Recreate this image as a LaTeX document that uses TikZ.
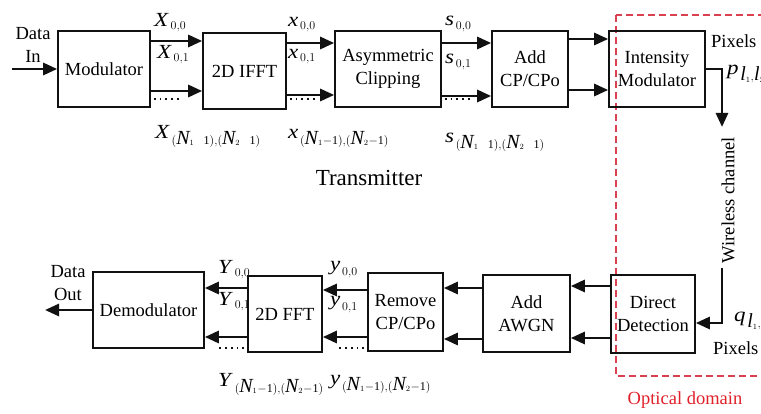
\documentclass[tikz,border=0pt]{standalone}
\usepackage{fontspec}
\setmainfont{Liberation Serif}
\usepackage{tikz}
\usetikzlibrary{arrows.meta,positioning}
\definecolor{ink}    {HTML}{111111}
\definecolor{optred} {HTML}{D94050}
\definecolor{optlab} {HTML}{E0202A}
\DeclareMathSizes{20}{20}{12}{8.5}
\newcommand{\vlet}[1]{\scalebox{1.15}[1]{\textit{#1}\kern1.5pt}}
\newcommand{\lastidx}[1]{(\textit{N}_{1}#1\mathrm{1}),(\textit{N}_{2}#1\mathrm{1})}

\begin{document}
\begin{tikzpicture}[x=1pt,y=-1pt,font=\fontsize{18.5}{23}\selectfont,
    box/.style={draw=ink,line width=1.6pt,inner sep=0pt,align=center},
    sig/.style={ink,line width=2.8pt,-{Triangle[length=14pt,width=12pt]}},
    dots/.style={ink,line width=1.8pt,dash pattern=on 1.8pt off 4pt},
    lab/.style={anchor=west,inner sep=0pt,font=\fontsize{20}{24}\selectfont}]
        \useasboundingbox (0,0) rectangle (761,414);

        % optical domain frame
        \draw[optred,line width=1.2pt,dash pattern=on 7pt off 4pt] (616,15) rectangle (775,376);
        \node[text=optlab] (optical) at (685,400) {Optical domain};

        \node[box,minimum width=92pt,minimum height=76pt]  (mod)   at (104,69)    {Modulator};
        \node[box,minimum width=83pt,minimum height=76pt]  (ifft)  at (244.5,71)  {2D IFFT};
        \node[box,minimum width=106pt,minimum height=76pt] (clip)  at (388,69)    {Asymmetric\\Clipping};
        \node[box,minimum width=76pt,minimum height=76pt]  (addcp) at (530,69)    {Add\\CP/CPo};
        \node[box,minimum width=96pt,minimum height=76pt]  (im)    at (657,69)    {Intensity\\Modulator};

        \node[box,minimum width=84pt,minimum height=78pt]  (dd)    at (653,314)   {Direct\\Detection};
        \node[box,minimum width=87pt,minimum height=77pt]  (awgn)  at (526.5,313.5) {Add\\AWGN};
        \node[box,minimum width=75pt,minimum height=78pt]  (rmcp)  at (405.5,312) {Remove\\CP/CPo};
        \node[box,minimum width=74pt,minimum height=76pt]  (fft)   at (285,314)   {2D FFT};
        \node[box,minimum width=111pt,minimum height=76pt] (demod) at (148.5,310) {Demodulator};

        \node[align=center,inner sep=0pt] (datain)  at (33,45)  {Data\\In};
        \node[align=center,inner sep=0pt] (dataout) at (68,283) {Data\\Out};
        \coordinate (din)  at (12,69);
        \coordinate (dout) at (45,310);
        \draw[sig] (din) -- (mod.west);
        \draw[sig] (demod.west) -- (dout);

        \foreach \a/\b/\u/\d in {mod/ifft/28/-22,ifft/clip/28/-24,clip/addcp/26/-27,addcp/im/30/-21} {
          \draw[sig] ([yshift=\u pt]\a.east) -- ([yshift=\u pt]\a.east -| \b.west);
          \draw[sig] ([yshift=\d pt]\a.east) -- ([yshift=\d pt]\a.east -| \b.west);
        }
        \foreach \a/\b/\u/\d in {dd/awgn/28/-24,awgn/rmcp/25.5/-25.5,rmcp/fft/22/-25,fft/demod/26/-23} {
          \draw[sig] ([yshift=\u pt]\a.west) -- ([yshift=\u pt]\a.west -| \b.east);
          \draw[sig] ([yshift=\d pt]\a.west) -- ([yshift=\d pt]\a.west -| \b.east);
        }
        \foreach \a/\s in {mod/-30,ifft/-28,clip/-30} {
          \draw[dots] ([shift={(3pt,\s pt)}]\a.east) -- ++(27,0);
        }
        \foreach \a/\s in {fft/-34,rmcp/-36} {
          \draw[dots] ([shift={(-3pt,\s pt)}]\a.west) -- ++(-27,0);
        }

        % channel
        \coordinate (wtop) at (722,127);
        \coordinate (wbot) at (722,268);
        \draw[sig] (im.east) -| (wtop);
        \draw[sig] (wbot) |- ([yshift=-9pt]dd.east);
        \node[rotate=90,inner sep=0pt] (wch) at (728,200) {Wireless channel};
        \node[anchor=west,inner sep=0pt] (pixtop) at (711,41)  {Pixels};
        \node[anchor=west,inner sep=0pt] (pixbot) at (713,348) {Pixels};
        \node[lab] (plab)   at (727,74)  {$\vlet{p}_{\textit{l}_{1},\textit{l}_{2}}$};
        \node[lab] (qlab)   at (734,321) {$\vlet{q}_{\textit{l}_{1},\textit{l}_{2}}$};

        \node[lab] (X00) at (154,23)  {$\vlet{X}_{0,0}$};
        \node[lab] (X01) at (157,55)  {$\vlet{X}_{0,1}$};
        \node[lab] (XNN) at (155,136) {$\vlet{X}_{\lastidx{\mathbin{\phantom{-}}}}$};
        \node[lab] (x00) at (288,25)  {$\vlet{x}_{0,0}$};
        \node[lab] (x01) at (288,57)  {$\vlet{x}_{0,1}$};
        \node[lab] (xNN) at (288,138) {$\vlet{x}_{\lastidx{-}}$};
        \node[lab] (s00) at (445,24)  {$\vlet{s}_{0,0}$};
        \node[lab] (s01) at (445,62)  {$\vlet{s}_{0,1}$};
        \node[lab] (sNN) at (445,142) {$\vlet{s}_{\lastidx{\mathbin{\phantom{-}}}}$};

        \node[lab] (Y00) at (218,270) {$\vlet{Y}_{0,0}$};
        \node[lab] (Y01) at (218,302) {$\vlet{Y}_{0,1}$};
        \node[lab] (YNN) at (218,384) {$\vlet{Y}_{\lastidx{-}}$};
        \node[lab] (y00) at (330,270) {$\vlet{y}_{0,0}$};
        \node[lab] (y01) at (330,305) {$\vlet{y}_{0,1}$};
        \node[lab] (yNN) at (330,384) {$\vlet{y}_{\lastidx{-}}$};

        \node[font=\fontsize{23}{27}\selectfont] (tx) at (369,178) {Transmitter};
      \end{tikzpicture}
\end{document}
